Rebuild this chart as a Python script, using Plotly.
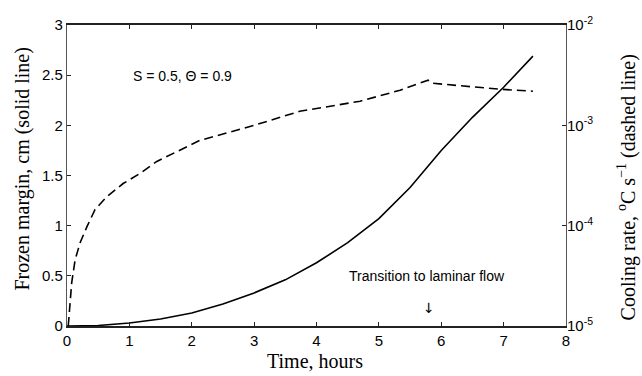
import plotly.graph_objects as go

# Frozen margin (cm) versus time (hours)
t_margin = [0, 0.5, 1, 1.5, 2, 2.5, 3, 3.5, 4, 4.5, 5, 5.5, 6, 6.5, 7, 7.47]
margin_cm = [0, 0.005, 0.03, 0.07, 0.13, 0.22, 0.33, 0.46, 0.63, 0.83, 1.07,
             1.38, 1.75, 2.08, 2.38, 2.69]

# Cooling rate (degC/s) versus time (hours)
t_rate = [0.02, 0.05, 0.075, 0.13, 0.21, 0.32, 0.45, 0.64, 0.9, 1.17, 1.44,
          2.13, 3.0, 3.73, 4.7, 5.34, 5.79, 5.85, 6.19, 6.94, 7.47]
cooling_rate = [1.0e-5, 1.82e-5, 2.69e-5, 4.57e-5, 6.76e-5, 9.77e-5, 1.45e-4,
                1.95e-4, 2.63e-4, 3.31e-4, 4.37e-4, 7.08e-4, 1.0e-3, 1.38e-3,
                1.74e-3, 2.24e-3, 2.82e-3, 2.63e-3, 2.51e-3, 2.29e-3, 2.19e-3]

x_ticks = [0, 1, 2, 3, 4, 5, 6, 7, 8]
y_ticks = [0, 0.5, 1, 1.5, 2, 2.5, 3]
y_tick_text = ["0", "0.5", "1", "1.5", "2", "2.5", "3"]
rate_ticks = [1e-5, 1e-4, 1e-3, 1e-2]
rate_tick_text = ["10<sup>-5</sup>", "10<sup>-4</sup>", "10<sup>-3</sup>", "10<sup>-2</sup>"]

tick_font = dict(family="Liberation Sans, Arial, sans-serif", size=15, color="black")
title_font = dict(family="Liberation Serif, Times New Roman, serif", size=20, color="black")
note_font = dict(family="Liberation Sans, Arial, sans-serif", size=14, color="black")

fig = go.Figure()
fig.add_trace(go.Scatter(x=t_margin, y=margin_cm, mode="lines",
                         line=dict(color="black", width=1.6), yaxis="y",
                         showlegend=False))
fig.add_trace(go.Scatter(x=t_rate, y=cooling_rate, mode="lines",
                         line=dict(color="black", width=1.6, dash="9px,5px"),
                         yaxis="y2", showlegend=False))

fig.update_layout(
    width=642, height=376,
    margin=dict(l=67, r=76, t=25, b=50),
    paper_bgcolor="white", plot_bgcolor="white",
    xaxis=dict(range=[0, 8], tickvals=x_ticks, ticks="inside", ticklen=4,
               tickcolor="#222", showline=True, linecolor="#222", linewidth=1.5,
               mirror="ticks", showgrid=False, zeroline=False, tickfont=tick_font),
    yaxis=dict(range=[0, 3], tickvals=y_ticks, ticktext=y_tick_text,
               ticks="inside", ticklen=4, tickcolor="#222", showline=True,
               linecolor="#555", linewidth=1.2, mirror=True, showgrid=False,
               zeroline=False, tickfont=tick_font),
    yaxis2=dict(type="log", range=[-5, -2], overlaying="y", side="right",
                tickvals=rate_ticks, ticktext=rate_tick_text, ticks="inside",
                ticklen=4, tickcolor="#222", showline=False, showgrid=False,
                zeroline=False, tickfont=tick_font),
    annotations=[
        dict(text="Time, hours", xref="paper", yref="paper", x=0.497, y=-0.115,
             xanchor="center", yanchor="middle", showarrow=False, font=title_font),
        dict(text="Frozen margin, cm (solid line)", xref="paper", yref="paper",
             x=-0.09, y=0.52, xanchor="center", yanchor="middle", textangle=-90,
             showarrow=False, font=title_font),
        dict(text="Cooling rate, <sup>o</sup>C s<sup>\u22121</sup> (dashed line)",
             xref="paper", yref="paper", x=1.122, y=0.46, xanchor="center",
             yanchor="middle", textangle=-90, showarrow=False, font=title_font),
        dict(text="S = 0.5, \u0398 = 0.9", xref="x", yref="y", x=1.02, y=2.49,
             xanchor="left", yanchor="middle", showarrow=False, font=note_font),
        dict(text="Transition to laminar flow", xref="x", yref="y", x=5.77, y=0.5,
             xanchor="center", yanchor="middle", showarrow=False, font=note_font),
        dict(text="\u2193", xref="x", yref="y", x=5.8, y=0.18,
             xanchor="center", yanchor="middle", showarrow=False,
             font=dict(family="DejaVu Sans, sans-serif", size=14, color="black")),
    ],
)

fig.write_html("out.html")
